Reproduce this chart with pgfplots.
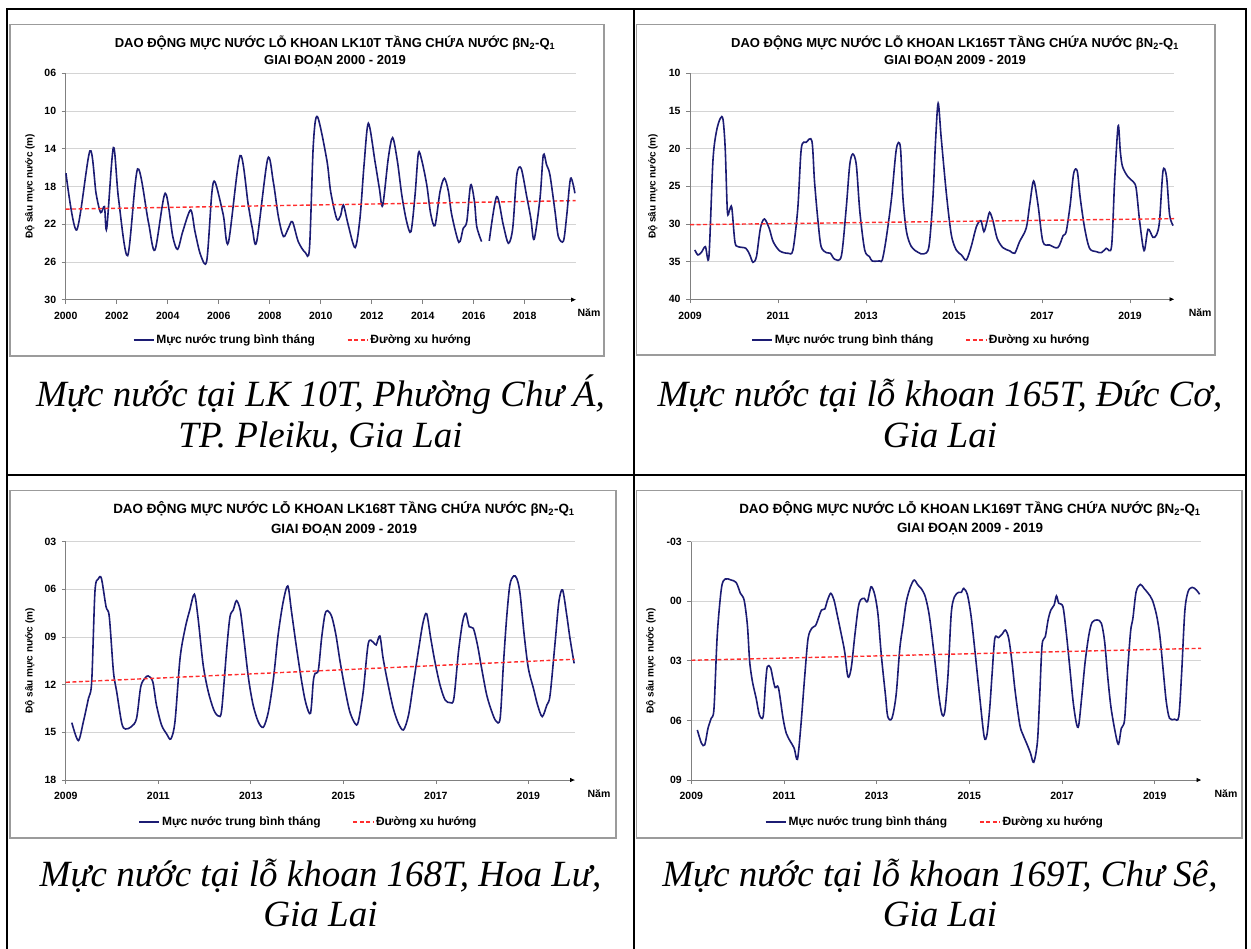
\documentclass[border=0pt]{standalone}
\usepackage{fontspec}
\setmainfont{Liberation Sans}
\newfontfamily\capfont{Liberation Serif}
\usepackage{pgfplots}
\pgfplotsset{compat=1.18}
\usetikzlibrary{arrows.meta}

\definecolor{lkblue}{RGB}{28,28,115}
\definecolor{lkred}{RGB}{255,45,45}
\definecolor{lkgrid}{RGB}{212,212,212}
\definecolor{lkaxis}{RGB}{128,128,128}
\definecolor{lkframe}{RGB}{155,155,155}

\newcommand\ttl{\fontsize{13}{15}\selectfont\bfseries}
\newcommand\ttlb{\fontsize{13.4}{15}\selectfont\bfseries}
\newcommand\capf{\fontsize{37}{41}\selectfont\capfont\itshape}

\tikzset{lknam/.style={font=\fontsize{10.5}{12}\selectfont\bfseries}}

\pgfplotsset{
  lk/.style={
    scale only axis, anchor=south west, clip=false,
    xmax=2020,
    y dir=reverse,
    axis x line*=bottom, axis y line*=left,
    x axis line style={lkaxis, line width=0.8pt, -{Triangle[length=4.5pt,width=4pt,color=black]}},
    y axis line style={lkaxis, line width=0.8pt, -},
    tick align=outside,
    major tick length=4pt,
    tick style={lkaxis, line width=0.7pt},
    ymajorgrids, grid style={lkgrid, line width=0.9pt},
    tick label style={font=\fontsize{10.5}{12}\selectfont\bfseries},
    xticklabel style={yshift=-5pt},
    yticklabel style={xshift=-2pt},
    ylabel={Độ sâu mực nước (m)},
    ylabel style={font=\fontsize{10}{12}\selectfont\bfseries, anchor=center},
    legend style={draw=none, fill=none, font=\fontsize{12}{14}\selectfont\bfseries,
      legend columns=2, anchor=center,
      /tikz/every even column/.append style={column sep=30pt}},
    legend image code/.code={\draw[##1] (0pt,0pt) -- (20pt,0pt);},
  },
  lkline/.style={lkblue, line width=1.6pt, smooth, tension=0.5},
  lktrend/.style={lkred, line width=1.4pt, dash pattern=on 4pt off 2.5pt},
}

\begin{document}
\begin{tikzpicture}
\useasboundingbox (0pt,0pt) rectangle (1251pt,949pt);
\begin{scope}[x=1pt,y=1pt]
  % khung bảng
  \draw[line width=2pt] (7.3,0) -- (7.3,939.7) -- (1246.3,939.7) -- (1246.3,0);
  \draw[line width=2pt] (633.7,939.7) -- (633.7,0);
  \draw[line width=2pt] (7.3,474.3) -- (1246.3,474.3);
  % khung biểu đồ
  \draw[lkframe, line width=1.4pt] (10,924.7) rectangle (604,593);
  \draw[lkframe, line width=1.4pt] (636.5,924.7) rectangle (1215,594);
  \draw[lkframe, line width=1.4pt] (10,458.3) rectangle (616,111);
  \draw[lkframe, line width=1.4pt] (636.5,458.3) rectangle (1242,111);
  % tiêu đề
  \node[anchor=base, font=\ttl] at (335,901.7) {DAO ĐỘNG MỰC NƯỚC LỖ KHOAN LK10T TẦNG CHỨA NƯỚC βN\textsubscript{2}-Q\textsubscript{1}};
  \node[anchor=base, font=\ttl] at (335,884) {GIAI ĐOẠN 2000 - 2019};
  \node[anchor=base, font=\ttl] at (955,901.7) {DAO ĐỘNG MỰC NƯỚC LỖ KHOAN LK165T TẦNG CHỨA NƯỚC βN\textsubscript{2}-Q\textsubscript{1}};
  \node[anchor=base, font=\ttl] at (955,884) {GIAI ĐOẠN 2009 - 2019};
  \node[anchor=base, font=\ttlb] at (344,435.5) {DAO ĐỘNG MỰC NƯỚC LỖ KHOAN LK168T TẦNG CHỨA NƯỚC βN\textsubscript{2}-Q\textsubscript{1}};
  \node[anchor=base, font=\ttlb] at (344,415.7) {GIAI ĐOẠN 2009 - 2019};
  \node[anchor=base, font=\ttlb] at (970,435.5) {DAO ĐỘNG MỰC NƯỚC LỖ KHOAN LK169T TẦNG CHỨA NƯỚC βN\textsubscript{2}-Q\textsubscript{1}};
  \node[anchor=base, font=\ttlb] at (970,416) {GIAI ĐOẠN 2009 - 2019};
  % chú thích ảnh
  \node[anchor=base, font=\capf] at (320.5,542) {Mực nước tại LK 10T, Phường Chư Á,};
  \node[anchor=base, font=\capf] at (320.5,501) {TP. Pleiku, Gia Lai};
  \node[anchor=base, font=\capf] at (940,542) {Mực nước tại lỗ khoan 165T, Đức Cơ,};
  \node[anchor=base, font=\capf] at (940,501) {Gia Lai};
  \node[anchor=base, font=\capf] at (320.5,62) {Mực nước tại lỗ khoan 168T, Hoa Lư,};
  \node[anchor=base, font=\capf] at (320.5,22) {Gia Lai};
  \node[anchor=base, font=\capf] at (940,62) {Mực nước tại lỗ khoan 169T, Chư Sê,};
  \node[anchor=base, font=\capf] at (940,22) {Gia Lai};
\end{scope}

% ---------------- LK10T ----------------
\begin{axis}[lk, at={(65.7pt,649.3pt)}, width=510pt, height=226.4pt,
  xmin=2000, ymin=6, ymax=30,
  xtick={2000,2002,...,2018}, xticklabels={2000,2002,2004,2006,2008,2010,2012,2014,2016,2018},
  ytick={6,10,...,30}, yticklabels={06,10,14,18,22,26,30},
  every axis y label/.append style={at={(axis description cs:-0.07,0.5)}},
  legend style={at={(axis description cs:0.465,-0.178)}}]
\addplot[lkline] coordinates {
(2000.01,16.60) (2000.43,22.61) (2000.95,14.23) (2001.19,18.72) (2001.37,20.77)
(2001.52,20.13) (2001.61,22.43) (2001.87,13.88) (2002.07,19.25) (2002.43,25.33)
(2002.82,16.14) (2003.24,21.72) (2003.50,24.73) (2003.90,18.72) (2004.20,23.31)
(2004.39,24.66) (2004.59,22.78) (2004.90,20.49) (2005.07,22.78) (2005.29,25.26)
(2005.53,25.89) (2005.73,18.72) (2005.86,17.55) (2006.18,21.02) (2006.38,23.95)
(2006.84,14.73) (2007.16,19.96) (2007.32,22.43) (2007.49,23.84) (2007.92,15.08)
(2008.14,17.48) (2008.34,21.19) (2008.54,23.31) (2008.73,22.43) (2008.89,21.72)
(2009.12,23.84) (2009.39,24.98) (2009.56,24.55) (2009.71,13.60) (2009.87,10.59)
(2010.24,15.19) (2010.39,18.54) (2010.63,21.44) (2010.78,21.09) (2010.89,19.96)
(2011.08,22.08) (2011.35,24.48) (2011.54,21.37) (2011.70,15.72) (2011.87,11.30)
(2012.13,15.36) (2012.30,18.19) (2012.43,20.03) (2012.65,15.01) (2012.82,12.82)
(2013.01,15.36) (2013.18,18.90) (2013.37,21.72) (2013.54,22.78) (2013.70,18.90)
(2013.83,14.48) (2013.96,15.19) (2014.16,17.84) (2014.31,20.84) (2014.48,22.15)
(2014.68,18.54) (2014.85,17.13) (2015.01,18.54) (2015.14,21.02) (2015.42,23.92)
(2015.59,22.43) (2015.73,21.72) (2015.88,17.84) (2016.03,19.60) (2016.12,22.25)
(2016.31,23.84)};
\addlegendentry{Mực nước trung bình tháng}
\addplot[lktrend] coordinates {(2000,20.4) (2020,19.5)};
\addlegendentry{Đường xu hướng}
\addplot[lkline, forget plot] coordinates {
(2016.61,23.77) (2016.90,19.07) (2017.16,22.08) (2017.36,24.02) (2017.53,22.43)
(2017.69,16.78) (2017.86,16.07) (2018.08,19.07) (2018.24,21.37) (2018.37,23.60)
(2018.60,19.25) (2018.73,14.66) (2018.86,15.72) (2018.99,16.78) (2019.19,20.66)
(2019.32,23.31) (2019.52,23.77) (2019.65,21.02) (2019.80,17.13) (2019.97,18.72)};
\node[lknam] at (axis description cs:1.026,-0.059) {Năm};
\end{axis}

% ---------------- LK165T ----------------
\begin{axis}[lk, at={(690pt,649.7pt)}, width=484pt, height=226pt,
  xmin=2009, ymin=10, ymax=40,
  xtick={2009,2011,...,2019}, xticklabels={2009,2011,2013,2015,2017,2019},
  ytick={10,15,...,40}, yticklabels={10,15,20,25,30,35,40},
  every axis y label/.append style={at={(axis description cs:-0.0764,0.5)}},
  legend style={at={(axis description cs:0.478,-0.18)}}]
\addplot[lkline] coordinates {
(2009.11,33.45) (2009.18,34.12) (2009.26,33.76) (2009.35,33.01) (2009.43,34.34)
(2009.52,21.73) (2009.60,17.74) (2009.69,15.97) (2009.75,16.11) (2009.80,19.96)
(2009.85,28.36) (2009.90,28.14) (2009.95,27.83) (2010.02,32.35) (2010.09,33.01)
(2010.27,33.23) (2010.36,34.12) (2010.43,35.09) (2010.51,34.34) (2010.60,30.58)
(2010.69,29.34) (2010.80,30.58) (2010.89,32.35) (2011.04,33.58) (2011.23,33.89)
(2011.34,33.45) (2011.45,27.92) (2011.53,19.96) (2011.64,19.16) (2011.77,18.98)
(2011.83,24.38) (2011.91,29.69) (2011.98,33.01) (2012.10,33.81) (2012.19,33.89)
(2012.29,34.69) (2012.44,34.25) (2012.55,27.92) (2012.63,22.17) (2012.70,20.71)
(2012.78,22.17) (2012.86,28.36) (2012.97,33.45) (2013.08,34.34) (2013.14,34.91)
(2013.31,34.91) (2013.37,34.78) (2013.46,31.90) (2013.58,26.59) (2013.69,20.04)
(2013.78,19.73) (2013.84,26.59) (2013.92,31.02) (2014.03,33.01) (2014.18,33.76)
(2014.31,33.98) (2014.43,33.01) (2014.52,26.59) (2014.58,19.07) (2014.64,13.98)
(2014.71,18.63) (2014.83,26.15) (2014.94,31.46) (2015.05,33.45) (2015.17,34.12)
(2015.28,34.78) (2015.39,33.01) (2015.51,30.35) (2015.61,29.56) (2015.68,31.02)
(2015.75,29.69) (2015.81,28.45) (2015.89,29.69) (2015.98,31.90) (2016.11,33.14)
(2016.27,33.58) (2016.38,33.89) (2016.49,32.35) (2016.64,30.58) (2016.72,27.48)
(2016.81,24.29) (2016.91,27.48) (2017.02,32.35) (2017.17,32.79) (2017.36,33.14)
(2017.48,31.55) (2017.55,31.02) (2017.64,27.48) (2017.72,23.27) (2017.80,22.96)
(2017.87,26.59) (2017.97,30.58) (2018.08,33.23) (2018.23,33.67) (2018.35,33.81)
(2018.46,33.23) (2018.58,33.01) (2018.65,24.38) (2018.73,16.99) (2018.78,20.40)
(2018.83,22.39) (2018.95,23.72) (2019.07,24.38) (2019.14,25.27) (2019.22,29.69)
(2019.32,33.54) (2019.41,30.71) (2019.52,31.77) (2019.60,31.46) (2019.67,29.69)
(2019.75,22.96) (2019.83,23.72) (2019.90,28.81) (2019.98,30.22)};
\addlegendentry{Mực nước trung bình tháng}
\addplot[lktrend] coordinates {(2009,30.1) (2020,29.3)};
\addlegendentry{Đường xu hướng}
\node[lknam] at (axis description cs:1.054,-0.06) {Năm};
\end{axis}

% ---------------- LK168T ----------------
\begin{axis}[lk, at={(65.8pt,169pt)}, width=508.8pt, height=238.3pt,
  xmin=2009, ymin=3, ymax=18,
  xtick={2009,2011,...,2019}, xticklabels={2009,2011,2013,2015,2017,2019},
  ytick={3,6,...,18}, yticklabels={03,06,09,12,15,18},
  every axis y label/.append style={at={(axis description cs:-0.0704,0.5)}},
  legend style={at={(axis description cs:0.477,-0.176)}}]
\addplot[lkline] coordinates {
(2009.13,14.39) (2009.27,15.52) (2009.38,14.33) (2009.49,12.86) (2009.56,11.81)
(2009.63,6.15) (2009.70,5.35) (2009.77,5.31) (2009.87,7.09) (2009.94,7.72)
(2010.03,11.18) (2010.10,12.44) (2010.21,14.43) (2010.29,14.79) (2010.42,14.64)
(2010.53,14.12) (2010.62,12.13) (2010.71,11.60) (2010.78,11.45) (2010.88,11.81)
(2010.96,13.28) (2011.07,14.54) (2011.18,15.10) (2011.27,15.42) (2011.36,14.33)
(2011.47,10.34) (2011.58,8.45) (2011.68,7.30) (2011.78,6.31) (2011.86,7.82)
(2011.97,10.76) (2012.08,12.44) (2012.20,13.59) (2012.30,13.97) (2012.37,13.59)
(2012.48,9.71) (2012.55,7.72) (2012.62,7.30) (2012.69,6.71) (2012.77,7.30)
(2012.84,8.87) (2012.95,11.60) (2013.05,13.28) (2013.16,14.33) (2013.27,14.68)
(2013.38,13.70) (2013.49,11.60) (2013.59,8.87) (2013.70,6.78) (2013.80,5.79)
(2013.88,7.41) (2013.99,9.71) (2014.10,11.81) (2014.19,13.17) (2014.29,13.80)
(2014.35,11.81) (2014.39,11.29) (2014.46,11.08) (2014.53,9.08) (2014.60,7.62)
(2014.66,7.34) (2014.75,7.72) (2014.84,8.87) (2014.93,10.55) (2015.04,12.33)
(2015.14,13.70) (2015.25,14.43) (2015.32,14.37) (2015.43,12.44) (2015.54,9.40)
(2015.65,9.34) (2015.71,9.50) (2015.79,8.94) (2015.86,10.34) (2015.97,12.02)
(2016.08,13.49) (2016.19,14.43) (2016.30,14.85) (2016.41,13.91) (2016.51,12.02)
(2016.62,9.92) (2016.72,8.14) (2016.80,7.53) (2016.89,9.08) (2016.98,10.55)
(2017.09,12.02) (2017.20,12.96) (2017.31,13.13) (2017.39,12.86) (2017.49,9.92)
(2017.58,8.03) (2017.65,7.51) (2017.72,8.35) (2017.81,8.45) (2017.90,9.50)
(2017.99,10.97) (2018.10,12.65) (2018.21,13.70) (2018.30,14.29) (2018.39,14.12)
(2018.46,10.76) (2018.53,7.82) (2018.60,5.73) (2018.68,5.16) (2018.75,5.31)
(2018.82,6.25) (2018.91,8.87) (2019.00,10.97) (2019.11,12.23) (2019.20,13.28)
(2019.30,14.01) (2019.40,13.28) (2019.47,12.65) (2019.58,9.29) (2019.66,6.78)
(2019.74,6.04) (2019.83,7.62) (2019.90,9.08) (2019.99,10.66)};
\addlegendentry{Mực nước trung bình tháng}
\addplot[lktrend] coordinates {(2009,11.85) (2020,10.4)};
\addlegendentry{Đường xu hướng}
\node[lknam] at (axis description cs:1.048,-0.059) {Năm};
\end{axis}

% ---------------- LK169T ----------------
\begin{axis}[lk, at={(691.3pt,169pt)}, width=509.7pt, height=238.3pt,
  xmin=2009, ymin=-3, ymax=9,
  xtick={2009,2011,...,2019}, xticklabels={2009,2011,2013,2015,2017,2019},
  ytick={-3,0,...,9}, yticklabels={-03,00,03,06,09},
  every axis y label/.append style={at={(axis description cs:-0.079,0.5)}},
  legend style={at={(axis description cs:0.478,-0.176)}}]
\addplot[lkline] coordinates {
(2009.13,6.48) (2009.22,7.15) (2009.29,7.23) (2009.36,6.40) (2009.43,5.89)
(2009.49,5.39) (2009.56,1.70) (2009.65,-0.65) (2009.73,-1.12) (2009.86,-1.07)
(2009.97,-0.94) (2010.06,-0.40) (2010.14,-0.06) (2010.21,1.19) (2010.26,3.04)
(2010.32,4.05) (2010.40,4.89) (2010.47,5.72) (2010.55,5.81) (2010.60,4.21)
(2010.64,3.29) (2010.71,3.34) (2010.76,3.88) (2010.81,4.35) (2010.88,4.35)
(2010.98,5.89) (2011.05,6.65) (2011.14,7.07) (2011.22,7.40) (2011.29,7.96)
(2011.36,6.40) (2011.45,3.71) (2011.52,1.87) (2011.60,1.36) (2011.68,1.23)
(2011.73,0.94) (2011.81,0.44) (2011.88,0.39) (2011.94,-0.06) (2012.01,-0.40)
(2012.08,-0.06) (2012.15,0.69) (2012.24,1.70) (2012.31,2.54) (2012.38,3.80)
(2012.45,3.38) (2012.53,1.70) (2012.60,0.36) (2012.65,-0.06) (2012.73,-0.15)
(2012.80,0.02) (2012.88,-0.73) (2012.96,-0.32) (2013.03,0.69) (2013.10,2.70)
(2013.19,4.72) (2013.24,5.81) (2013.33,5.89) (2013.42,4.72) (2013.50,2.37)
(2013.57,1.19) (2013.64,0.02) (2013.73,-0.73) (2013.81,-1.07) (2013.89,-0.82)
(2013.96,-0.65) (2014.05,-0.23) (2014.14,0.78) (2014.25,2.87) (2014.34,4.72)
(2014.41,5.69) (2014.47,5.56) (2014.54,3.71) (2014.61,0.61) (2014.68,-0.23)
(2014.77,-0.45) (2014.83,-0.45) (2014.88,-0.65) (2014.96,-0.32) (2015.04,0.78)
(2015.13,2.70) (2015.22,4.72) (2015.32,6.82) (2015.38,6.73) (2015.44,5.39)
(2015.49,3.71) (2015.55,1.87) (2015.63,1.83) (2015.71,1.65) (2015.78,1.45)
(2015.85,1.87) (2015.92,3.04) (2015.99,4.55) (2016.09,6.23) (2016.16,6.73)
(2016.25,7.23) (2016.32,7.65) (2016.39,8.11) (2016.47,7.07) (2016.52,4.72)
(2016.57,2.20) (2016.64,1.78) (2016.70,0.94) (2016.76,0.44) (2016.83,0.19)
(2016.88,-0.27) (2016.93,0.10) (2017.02,0.27) (2017.09,1.53) (2017.17,3.38)
(2017.24,5.05) (2017.31,6.14) (2017.36,6.26) (2017.43,4.72) (2017.50,3.04)
(2017.58,1.70) (2017.65,1.06) (2017.76,0.94) (2017.85,1.11) (2017.92,2.03)
(2017.99,3.88) (2018.06,5.39) (2018.16,6.73) (2018.22,7.20) (2018.28,6.40)
(2018.35,5.98) (2018.41,3.71) (2018.48,1.53) (2018.53,0.86) (2018.60,-0.48)
(2018.69,-0.85) (2018.77,-0.65) (2018.86,-0.40) (2018.95,-0.06) (2019.04,0.69)
(2019.11,1.70) (2019.18,3.38) (2019.25,5.05) (2019.32,5.89) (2019.43,5.94)
(2019.52,5.81) (2019.58,3.71) (2019.65,0.52) (2019.72,-0.48) (2019.81,-0.70)
(2019.90,-0.57) (2019.97,-0.35)};
\addlegendentry{Mực nước trung bình tháng}
\addplot[lktrend] coordinates {(2009,2.97) (2020,2.37)};
\addlegendentry{Đường xu hướng}
\node[lknam] at (axis description cs:1.049,-0.059) {Năm};
\end{axis}
\end{tikzpicture}
\end{document}
